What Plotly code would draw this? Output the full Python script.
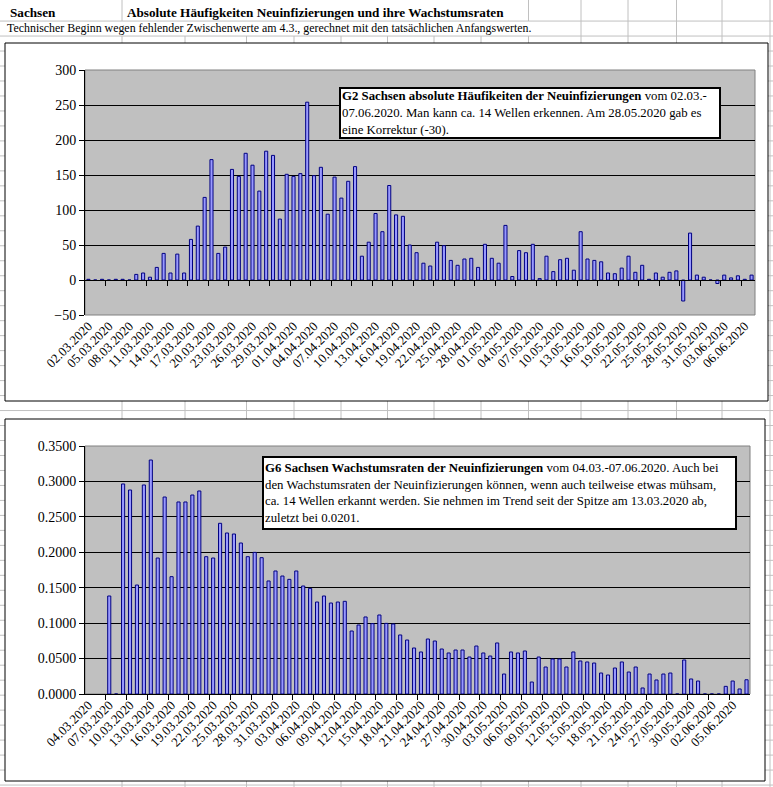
import pandas as pd
import plotly.graph_objects as go

W, H = 773, 787

# ---------------- data ----------------
dates_abs = [d.strftime("%d.%m.%Y") for d in pd.date_range("2020-03-02", "2020-06-07")]
new_infections = [
    1, 0, 1, 0, 1, 1, 0, 8, 10, 4,
    18, 38, 10, 37, 10, 58, 77, 118, 172, 38,
    47, 158, 148, 181, 164, 127, 184, 178, 87, 151,
    148, 152, 254, 149, 161, 94, 147, 117, 141, 162,
    34, 54, 95, 69, 135, 93, 91, 50, 39, 24,
    20, 54, 49, 28, 21, 30, 31, 18, 51, 31,
    24, 78, 5, 42, 39, 51, 2, 34, 12, 29,
    31, 14, 69, 30, 28, 26, 10, 9, 17, 34,
    11, 21, 1, 10, 4, 11, 13, -30, 67, 7,
    4, 0, -5, 7, 3, 6, 1, 7,
]

dates_rate = [d.strftime("%d.%m.%Y") for d in pd.date_range("2020-03-04", "2020-06-07")]
growth_rates = [
    None, None, None, 0.1383, 0, 0.2964, 0.2879, 0.1538, 0.2950, 0.3302,
    0.1919, 0.2780, 0.1656, 0.2710, 0.2710, 0.2808, 0.2865, 0.1938, 0.1919, 0.2409,
    0.2272, 0.2258, 0.2131, 0.1938, 0.1999, 0.1924, 0.1595, 0.1736, 0.1665, 0.1618,
    0.1736, 0.1524, 0.1491, 0.1298, 0.1383, 0.1284, 0.1298, 0.1308, 0.0889, 0.0974,
    0.1087, 0.0993, 0.1115, 0.0997, 0.0988, 0.0833, 0.0762, 0.0649, 0.0593, 0.0776,
    0.0748, 0.0635, 0.0579, 0.0621, 0.0621, 0.0522, 0.0677, 0.0579, 0.0536, 0.0720,
    0.0282, 0.0593, 0.0579, 0.0607, 0.0169, 0.0522, 0.0381, 0.0494, 0.0494, 0.0381,
    0.0593, 0.0466, 0.0452, 0.0437, 0.0296, 0.0268, 0.0367, 0.0452, 0.0310, 0.0381,
    0.0085, 0.0282, 0.0198, 0.0282, 0.0296, 0, 0.0480, 0.0212, 0.0183, 0,
    0, 0, 0.0108, 0.0183, 0.0071, 0.0201,
]

abs_ticks = dates_abs[::3]
rate_ticks = dates_rate[::3]

header_left = "Sachsen"
header_title = "Absolute Häufigkeiten Neuinfizierungen und ihre Wachstumsraten"
header_note = ("Technischer Beginn wegen fehlender Zwischenwerte am 4.3., "
               "gerechnet mit den tatsächlichen Anfangswerten.")
note_g2 = ("<b>G2 Sachsen absolute Häufikeiten der Neuinfizierungen</b> vom 02.03.-<br>"
           "07.06.2020. Man kann ca. 14 Wellen erkennen. Am 28.05.2020 gab es<br>"
           "eine Korrektur (-30).")
note_g6 = ("<b>G6 Sachsen Wachstumsraten der Neuinfizierungen</b> vom 04.03.-07.06.2020. Auch bei<br>"
           "den Wachstumsraten der Neuinfizierungen können, wenn auch teilweise etwas mühsam,<br>"
           "ca. 14 Wellen erkannt werden. Sie nehmen im Trend seit der Spitze am 13.03.2020 ab,<br>"
           "zuletzt bei 0.0201.")

# ---------------- helpers ----------------
def fx(px):
    return px / W

def fy(py):
    return 1 - py / H

SERIF = "Liberation Serif"
BAR_FILL = "#9999FF"
BAR_LINE = "#000080"

n1 = len(dates_abs)
n2 = len(dates_rate)

fig = go.Figure()
fig.add_trace(go.Bar(x=dates_abs, y=new_infections, xaxis="x", yaxis="y",
                     marker=dict(color=BAR_FILL, line=dict(color=BAR_LINE, width=1)),
                     width=0.45, hoverinfo="x+y", showlegend=False))
fig.add_trace(go.Bar(x=dates_rate, y=growth_rates, xaxis="x2", yaxis="y2",
                     marker=dict(color=BAR_FILL, line=dict(color=BAR_LINE, width=1)),
                     width=0.45, hoverinfo="x+y", showlegend=False))
# empty traces that carry the overlay tick axes
fig.add_trace(go.Scatter(x=[], y=[], xaxis="x3", yaxis="y", showlegend=False, hoverinfo="skip"))
fig.add_trace(go.Scatter(x=[], y=[], xaxis="x4", yaxis="y2", showlegend=False, hoverinfo="skip"))

# plot area pixel boxes
P1 = dict(l=85, r=755, t=70, b=315)
P2 = dict(l=85, r=750, t=446, b=694)
Y1_MIN, Y1_MAX = -50, 300
Y2_MIN, Y2_MAX = 0, 0.35

tickfont = dict(family=SERIF, size=13, color="black")
ytickfont = dict(family=SERIF, size=14, color="black")

zero_frac1 = fy(P1["b"]) + (0 - Y1_MIN) / (Y1_MAX - Y1_MIN) * (fy(P1["t"]) - fy(P1["b"]))

fig.update_layout(
    width=W, height=H, margin=dict(l=0, r=0, t=0, b=0),
    paper_bgcolor="white", plot_bgcolor="rgba(0,0,0,0)",
    barmode="overlay", showlegend=False,
    xaxis=dict(domain=[fx(P1["l"]), fx(P1["r"])], anchor="y", type="category",
               range=[-0.5, n1 - 0.5], tickmode="array", tickvals=abs_ticks, ticktext=abs_ticks,
               tickangle=-45, ticks="", showline=False, showgrid=False, zeroline=False,
               tickfont=tickfont, automargin=False),
    yaxis=dict(domain=[fy(P1["b"]), fy(P1["t"])], anchor="x", range=[Y1_MIN, Y1_MAX],
               tick0=0, dtick=50, showgrid=True, gridcolor="black", gridwidth=1,
               zeroline=True, zerolinecolor="black", zerolinewidth=1,
               showline=True, linecolor="black", linewidth=1,
               ticks="outside", ticklen=5, tickcolor="black", tickfont=ytickfont, automargin=False),
    xaxis3=dict(overlaying="x", anchor="free", position=zero_frac1, range=[-0.5, n1 - 0.5],
                tickmode="array", tickvals=[k - 0.5 for k in range(3, n1, 3)],
                ticks="outside", ticklen=5, tickcolor="black", showticklabels=False,
                showline=True, linecolor="black", linewidth=1, showgrid=False, zeroline=False),
    xaxis2=dict(domain=[fx(P2["l"]), fx(P2["r"])], anchor="y2", type="category",
                range=[-0.5, n2 - 0.5], tickmode="array", tickvals=rate_ticks, ticktext=rate_ticks,
                tickangle=-45, ticks="", showline=False, showgrid=False, zeroline=False,
                tickfont=tickfont, automargin=False),
    yaxis2=dict(domain=[fy(P2["b"]), fy(P2["t"])], anchor="x2", range=[Y2_MIN, Y2_MAX],
                tick0=0, dtick=0.05, tickformat=".4f", showgrid=True, gridcolor="black", gridwidth=1,
                zeroline=False, showline=True, linecolor="black", linewidth=1,
                ticks="outside", ticklen=5, tickcolor="black", tickfont=ytickfont, automargin=False),
    xaxis4=dict(overlaying="x2", anchor="y2", range=[-0.5, n2 - 0.5],
                tickmode="array", tickvals=[k - 0.5 for k in range(3, n2, 3)],
                ticks="outside", ticklen=5, tickcolor="black", showticklabels=False,
                showline=True, linecolor="black", linewidth=1, showgrid=False, zeroline=False),
)

shapes = []
GRID = "#c0c0c0"
# spreadsheet row lines
k = -3
while True:
    y = 66 + 14.98 * k
    if y > H:
        break
    shapes.append(dict(type="line", xref="paper", yref="paper", x0=0, x1=1, y0=fy(y), y1=fy(y),
                       line=dict(color=GRID, width=1), layer="below"))
    k += 1
# spreadsheet column lines (hidden where header text overflows)
cols = [122, 185, 246.5, 294, 341, 387.5, 434, 481, 528.5, 581, 628, 676.5, 722, 770]
for c in cols:
    if 150 < c < 500:
        segs = [(36, H)]
    elif c in (122, 528.5):
        segs = [(0, 21), (36, H)]
    else:
        segs = [(0, H)]
    for a, b in segs:
        shapes.append(dict(type="line", xref="paper", yref="paper", x0=fx(c), x1=fx(c),
                           y0=fy(a), y1=fy(b), line=dict(color=GRID, width=1), layer="below"))
# chart boxes
for (l, t, r, b) in [(5, 43, 768, 401), (5, 419, 765, 781)]:
    shapes.append(dict(type="rect", xref="paper", yref="paper", x0=fx(l), x1=fx(r),
                       y0=fy(b), y1=fy(t), fillcolor="white",
                       line=dict(color="black", width=1), layer="below"))
# plot area backgrounds
for P in (P1, P2):
    shapes.append(dict(type="rect", xref="paper", yref="paper", x0=fx(P["l"]), x1=fx(P["r"]),
                       y0=fy(P["b"]), y1=fy(P["t"]), fillcolor="#C0C0C0",
                       line=dict(color="#808080", width=1), layer="below"))
fig.update_layout(shapes=shapes)

annots = [
    dict(text=f"<b>{header_left}</b>", x=fx(8), y=fy(13), font=dict(family=SERIF, size=13.2, color="black")),
    dict(text=f"<b>{header_title}</b>", x=fx(125), y=fy(13), font=dict(family=SERIF, size=13.2, color="black")),
    dict(text=header_note, x=fx(5), y=fy(28.5), font=dict(family=SERIF, size=11.9, color="black")),
]
for a in annots:
    a.update(xref="paper", yref="paper", xanchor="left", yanchor="middle", showarrow=False, align="left")
    fig.add_annotation(**a)

for text, (l, t, r, b) in [(note_g2, (339, 87, 721, 139)), (note_g6, (262, 456, 737, 530))]:
    fig.add_annotation(text=text, xref="paper", yref="paper", x=fx(l), y=fy(t),
                       xanchor="left", yanchor="top", showarrow=False, align="left",
                       width=(r - l) - 6, height=(b - t) - 6, valign="middle",
                       bgcolor="white", bordercolor="black", borderwidth=2, borderpad=1,
                       font=dict(family=SERIF, size=12.8, color="black"))

fig.write_html("out.html", config={"displayModeBar": False},
               post_script="document.body.style.margin='0';")
